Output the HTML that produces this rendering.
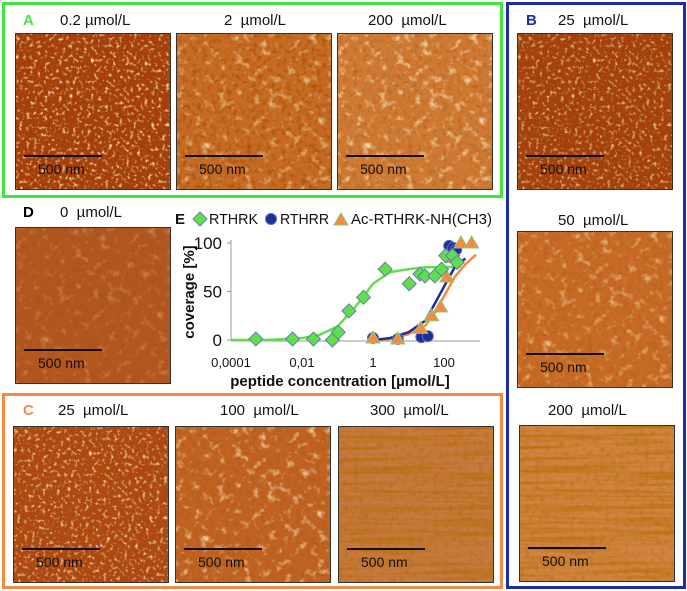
<!DOCTYPE html>
<html><head><meta charset="utf-8"><style>
body{margin:0;background:#fff;width:687px;height:591px;overflow:hidden;position:relative;font-family:"Liberation Sans",sans-serif}
.box{position:absolute;box-sizing:border-box}
.lbl{position:absolute;font-size:15px;color:#111;white-space:nowrap}
.pl{position:absolute;font-size:15px;font-weight:bold}
svg.img{position:absolute;border:1px solid #333;box-sizing:border-box}
</style></head><body>
<svg width="0" height="0" style="position:absolute">
<defs>
<filter id="n1" x="0" y="0" width="100%" height="100%"><feTurbulence type="fractalNoise" baseFrequency="0.28" numOctaves="2" seed="3"/><feColorMatrix type="matrix" values="0 0 0 0 1  0 0 0 0 0.85  0 0 0 0 0.5  3.2 0 0 0 -1.75"/></filter>
<filter id="n2" x="0" y="0" width="100%" height="100%"><feTurbulence type="fractalNoise" baseFrequency="0.12" numOctaves="3" seed="7"/><feColorMatrix type="matrix" values="0 0 0 0 1  0 0 0 0 0.85  0 0 0 0 0.55  2.6 0 0 0 -1.45"/></filter>
<filter id="nd" x="0" y="0" width="100%" height="100%"><feTurbulence type="fractalNoise" baseFrequency="0.2" numOctaves="2" seed="19"/><feColorMatrix type="matrix" values="0 0 0 0 0.35  0 0 0 0 0.08  0 0 0 0 0  -3 0 0 0 1.55"/></filter>
<filter id="n3" x="0" y="0" width="100%" height="100%"><feTurbulence type="fractalNoise" baseFrequency="0.01 0.25" numOctaves="2" seed="11"/><feColorMatrix type="matrix" values="0 0 0 0 0.45  0 0 0 0 0.15  0 0 0 0 0  -2 0 0 0 1.15"/></filter>
</defs></svg>

<div class="box" style="left:2px;top:2px;width:501px;height:196px;border:3px solid #3ee63e"></div>
<div class="box" style="left:506px;top:2px;width:180px;height:587px;border:3px solid #1c2ea0"></div>
<div class="box" style="left:2px;top:393px;width:501px;height:196px;border:3px solid #f58a45"></div>

<div class="pl" style="left:23px;top:12px;color:#3ee63e">A</div>
<div class="lbl" style="left:60px;top:12px">0.2 µmol/L</div>
<div class="lbl" style="left:224px;top:12px">2 &nbsp;µmol/L</div>
<div class="lbl" style="left:368px;top:12px">200 &nbsp;µmol/L</div>
<div class="pl" style="left:526px;top:12px;color:#1c2ea0">B</div>
<div class="lbl" style="left:558px;top:12px">25 &nbsp;µmol/L</div>
<div class="lbl" style="left:558px;top:212px">50 &nbsp;µmol/L</div>
<div class="lbl" style="left:548px;top:402px">200 &nbsp;µmol/L</div>
<div class="pl" style="left:23px;top:204px">D</div>
<div class="lbl" style="left:60px;top:204px">0 &nbsp;µmol/L</div>
<div class="pl" style="left:23px;top:402px;color:#f58a45">C</div>
<div class="lbl" style="left:58px;top:402px">25 &nbsp;µmol/L</div>
<div class="lbl" style="left:220px;top:402px">100 &nbsp;µmol/L</div>
<div class="lbl" style="left:370px;top:402px">300 &nbsp;µmol/L</div>

<div id="imgs"></div>

<svg id="chart" style="position:absolute;left:0;top:0" width="687" height="591"></svg>

<script>
const imgs=[
 ['afm-a1',15,33,'#a53e0a','n1',1,0.5],
 ['afm-a2',176,33,'#c66a24','n2',0.8,0.8],
 ['afm-a3',337,33,'#cf7a34','n2',1,0.4],
 ['afm-b1',517,33,'#a4400c','n1',0.8,0.4],
 ['afm-b2',517,231,'#c66a26','n2',0.7,0.3],
 ['afm-b3',519,425,'#d08440','n3',1,0.3],
 ['afm-d',15,227,'#b25620','n2',0.35,0.3],
 ['afm-c1',13,426,'#ae4812','n1',0.9,0.4],
 ['afm-c2',175,426,'#bf6222','n2',0.9,0.3],
 ['afm-c3',338,426,'#c77a3e','n3',1,0.3]
];
const cont=document.getElementById('imgs');
imgs.forEach(([name,x,y,col,f,op,dk])=>{
 const s=document.createElementNS('http://www.w3.org/2000/svg','svg');
 
 
 s.setAttribute('class','img');s.setAttribute('width',156);s.setAttribute('height',157);
 s.style.left=x+'px';s.style.top=y+'px';
 s.innerHTML=`<rect width="156" height="157" fill="${col}"/><rect width="156" height="157" filter="url(#nd)" opacity="${dk}"/><rect width="156" height="157" filter="url(#${f})" opacity="${op}"/>
 <line x1="8" y1="122" x2="86" y2="122" stroke="#111" stroke-width="2"/>
 <text x="22" y="140" font-family="Liberation Sans,sans-serif" font-size="14" fill="#111">500 nm</text>`;
 cont.appendChild(s);
});

const rthrkX=[0.0005,0.0054,0.021,0.072,0.105,0.21,0.54,2.2,10.5,21,29,55,85,112,174,234];
const rthrkY=[1,1,1,0,8,30,44,73,58,68,66,66,73,87,87,80];
const rthrrX=[1,5,23,35,140,180,220];
const rthrrY=[2,1,3,4,97,95,93];
const acX=[1,5,22,45,80,120,160,300,600];
const acY=[2,1,12,25,34,65,85,100,100];
const fitGX=[0.0001,0.001,0.01,0.03,0.1,0.3,1,3,10,30,100,300];
const fitGY=[0,0,2,5,14,33,58,70,73,75,75,76];
const fitBX=[1,3,10,30,60,100,200,400];
const fitBY=[0,2,8,20,40,55,75,84];
const fitOX=[1,3,10,30,60,100,200,400,800];
const fitOY=[0,1,6,15,30,45,65,78,88];
const xTicks=['0,0001','0,01','1','100'];
const xTickVals=[0.0001,0.01,1,100];
const yTicks=[0,50,100];

const X=v=>231+(Math.log10(v)+4)*35.5;
const Y=v=>340-v*0.97;
const c=document.getElementById('chart');
let h='';
h+=`<line x1="231" y1="240" x2="231" y2="341" stroke="#999"/><line x1="231" y1="341" x2="480" y2="341" stroke="#999"/>`;
yTicks.forEach(t=>{h+=`<line x1="227" x2="231" y1="${Y(t)}" y2="${Y(t)}" stroke="#999"/><text x="222" y="${Y(t)+6}" text-anchor="end" font-size="17" fill="#111">${t}</text>`;});
xTickVals.forEach((v,i)=>{h+=`<text x="${X(v)}" y="367" text-anchor="middle" font-size="13" fill="#111">${xTicks[i]}</text>`;});
const line=(xs,ys,col,name)=>`<polyline fill="none" stroke="${col}" stroke-width="2.5" points="${xs.map((x,i)=>X(x)+','+Y(ys[i])).join(' ')}"/>`;
h+=line(fitGX,fitGY,'#5ee04a','fit-rthrk');
h+=line(fitOX,fitOY,'#f58a45','fit-ac-rthrk');
h+=line(fitBX,fitBY,'#1c2e9a','fit-rthrr');
const dia=(x,y)=>`<polygon points="${x},${y-7} ${x+7},${y} ${x},${y+7} ${x-7},${y}" fill="#5ee04a" stroke="#6a7ab0" stroke-width="1"/>`;
const cir=(x,y)=>`<circle cx="${x}" cy="${y}" r="5.5" fill="#1c2e9a" stroke="#5a6ac0"/>`;
const tri=(x,y)=>`<polygon points="${x},${y-7} ${x+7},${y+5} ${x-7},${y+5}" fill="#f58a45" stroke="#8acb70" stroke-width="1"/>`;
rthrrX.forEach((v,i)=>{h+=`<g>${cir(X(v),Y(rthrrY[i]))}</g>`;});
acX.forEach((v,i)=>{h+=`<g>${tri(X(v),Y(acY[i]))}</g>`;});
rthrkX.forEach((v,i)=>{h+=`<g>${dia(X(v),Y(rthrkY[i]))}</g>`;});
h+=`<g font-size="15" fill="#111">
<text x="175" y="224" font-weight="bold">E</text>
${dia(200,219)}<text x="209" y="224" textLength="49" lengthAdjust="spacingAndGlyphs">RTHRK</text>
${cir(271,219)}<text x="280" y="224" textLength="49" lengthAdjust="spacingAndGlyphs">RTHRR</text>
${tri(341,220)}<text x="351" y="224" textLength="141" lengthAdjust="spacingAndGlyphs">Ac-RTHRK-NH(CH3)</text></g>`;
h+=`<text x="340" y="386" text-anchor="middle" font-size="15" font-weight="bold" fill="#111">peptide concentration [µmol/L]</text>`;
h+=`<text transform="translate(194,292) rotate(-90)" text-anchor="middle" font-size="15" font-weight="bold" fill="#111">coverage [%]</text>`;
c.innerHTML=h;
c.querySelectorAll('text').forEach(t=>t.setAttribute('font-family','Liberation Sans, sans-serif'));
</script>
</body></html>
